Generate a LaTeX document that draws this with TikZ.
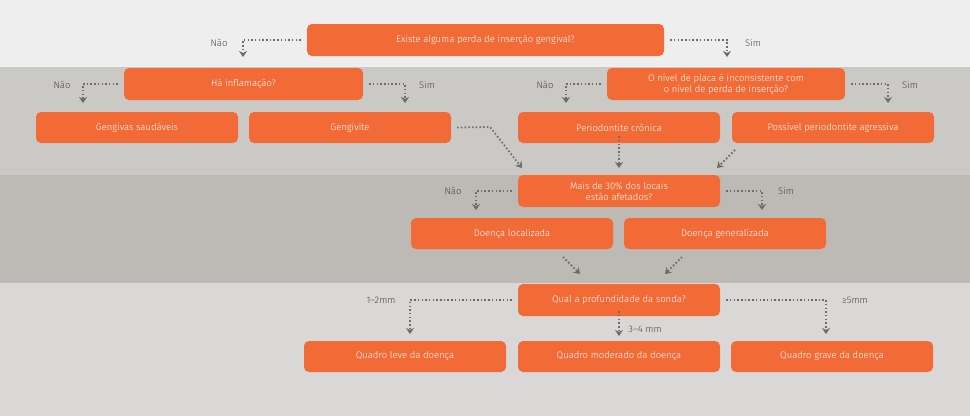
\documentclass[tikz,border=0pt]{standalone}
\usepackage{fontspec}
\setmainfont{Fira Sans Light}[BoldFont=Fira Sans]
\usetikzlibrary{arrows.meta}
\definecolor{org}{HTML}{F26A36}
\definecolor{dot}{HTML}{6E6C6A}
\definecolor{lbl}{HTML}{444444}
\definecolor{bA}{HTML}{EEEEEE}
\definecolor{bB}{HTML}{CBC9C6}
\definecolor{bC}{HTML}{BDBAB6}
\definecolor{bD}{HTML}{DAD8D6}
\tikzset{
 box/.style={fill=org,rounded corners=5pt,text=white,font=\fontsize{9.5}{11}\selectfont,align=center,inner sep=0pt},
 con/.style={dot,line width=1.8pt,dash pattern=on 1.5pt off 2.2pt,-{Stealth[length=6pt,width=8pt,fill=dot]}},
 lab/.style={text=lbl,font=\fontsize{9.5}{11}\selectfont}
}
\newcommand{\bx}[6]{\node[box,minimum width=#4pt-#2pt,minimum height=#5pt-#3pt] (#1) at ({(#2+#4)/2},{(#3+#5)/2}) {#6};}
\begin{document}
\begin{tikzpicture}[x=1pt,y=-1pt]
\useasboundingbox (0,0) rectangle (970,416);
\fill[bA] (0,0) rectangle (970,67);
\fill[bB] (0,67) rectangle (970,175);
\fill[bC] (0,175) rectangle (970,283);
\fill[bD] (0,283) rectangle (970,416);
\bx{q1}{307}{24}{664}{56}{Existe alguma perda de inserção gengival?}
\bx{q2}{124}{68}{363}{100}{Há inflamação?}
\bx{q3}{607}{68}{845}{100}{O nível de placa é inconsistente com\\o nível de perda de inserção?}
\bx{gs}{36}{112}{238}{143}{Gengivas saudáveis}
\bx{gv}{249}{112}{451}{143}{Gengivite}
\bx{pc}{518}{112}{720}{143}{Periodontite crônica}
\bx{pa}{732}{112}{934}{143}{Possível periodontite agressiva}
\bx{q4}{518}{175}{720}{207}{Mais de 30\% dos locais\\estão afetados?}
\bx{dl}{411}{218}{613}{249}{Doença localizada}
\bx{dg}{624}{218}{826}{249}{Doença generalizada}
\bx{q5}{518}{284}{720}{316}{Qual a profundidade da sonda?}
\bx{ql}{304}{341}{506}{372}{Quadro leve da doença}
\bx{qm}{518}{341}{720}{372}{Quadro moderado da doença}
\bx{qg}{731}{341}{933}{372}{Quadro grave da doença}
% coordinates
\coordinate (a1) at (243,57); \coordinate (a2) at (727,57);
\coordinate (b1) at (83,103); \coordinate (b2) at (405,103);
\coordinate (c1) at (566,103); \coordinate (c2) at (888,103);
\coordinate (m1) at (522,168); \coordinate (m2) at (619,168); \coordinate (m3) at (717,168);
\coordinate (d1) at (476,210); \coordinate (d2) at (762,210);
\coordinate (e1) at (580,274); \coordinate (e2) at (665,274);
\coordinate (f1) at (410,334); \coordinate (f2) at (619,336); \coordinate (f3) at (826,334);
\draw[con] ([xshift=-6pt]q1.west) -| (a1);
\draw[con] ([xshift=6pt]q1.east) -| (a2);
\draw[con] ([xshift=-6pt]q2.west) -| (b1);
\draw[con] ([xshift=6pt]q2.east) -| (b2);
\draw[con] ([xshift=-6pt]q3.west) -| (c1);
\draw[con] ([xshift=6pt]q3.east) -| (c2);
\draw[con] ([xshift=6pt]gv.east) -- (490,127) -- (m1);
\draw[con] ([yshift=7pt]pc.south) -- (m2);
\draw[con] (735,150) -- (m3);
\draw[con] ([xshift=-6pt]q4.west) -| (d1);
\draw[con] ([xshift=6pt]q4.east) -| (d2);
\draw[con] (563,257) -- (e1);
\draw[con] (682,257) -- (e2);
\draw[con] ([xshift=-6pt]q5.west) -| (f1);
\draw[con] ([xshift=6pt]q5.east) -| (f3);
\draw[con] ([yshift=5pt]q5.south) -- (f2);
\node[lab] (l1) at (219,43) {Não};
\node[lab] (l2) at (753,43) {Sim};
\node[lab] (l3) at (62,85) {Não};
\node[lab] (l4) at (427,85) {Sim};
\node[lab] (l5) at (545,85) {Não};
\node[lab] (l6) at (910,85) {Sim};
\node[lab] (l7) at (453,191) {Não};
\node[lab] (l8) at (786,191) {Sim};
\node[lab] (l9) at (381,300) {1–2mm};
\node[lab] (l10) at (855,300) {≥5mm};
\node[lab] (l11) at (645,329) {3–4 mm};
\end{tikzpicture}
\end{document}
